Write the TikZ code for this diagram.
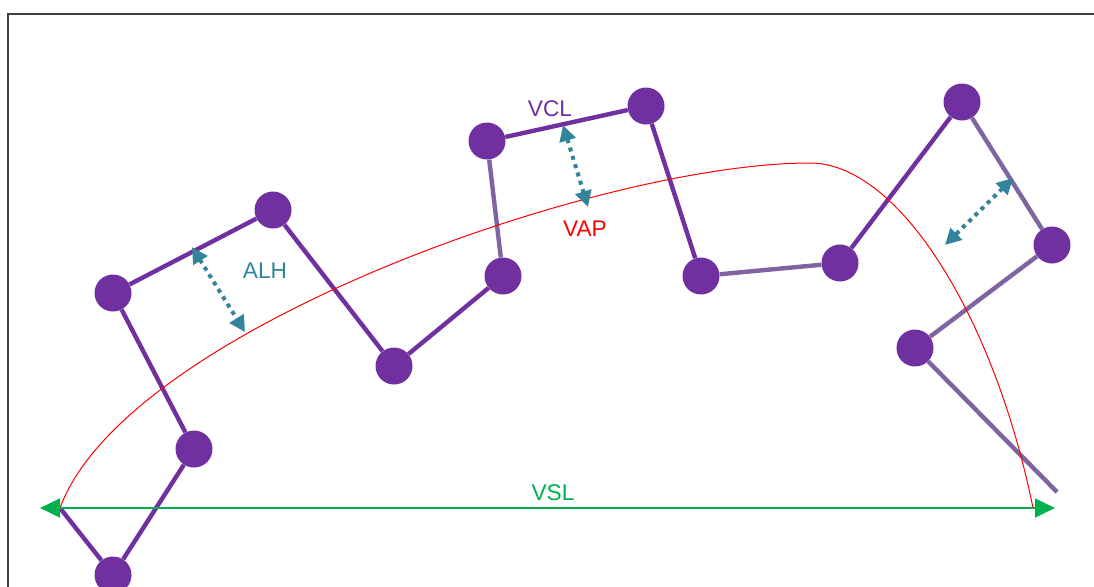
\documentclass[tikz,border=0pt]{standalone}
\usepackage{fontspec}
\setmainfont{Liberation Sans}
\usetikzlibrary{arrows.meta,backgrounds}
\definecolor{dpurple}{HTML}{7030A0}
\definecolor{lpurple}{HTML}{8064A2}
\definecolor{vgreen}{HTML}{00B050}
\definecolor{vteal}{HTML}{31849B}
\definecolor{vred}{HTML}{FF0000}
\begin{document}
\begin{tikzpicture}[x=0.75pt,y=-0.75pt,
  joint/.style={circle,fill=dpurple,minimum size=27.75pt,inner sep=0pt},
  dark/.style={draw=dpurple,line width=3.3pt},
  light/.style={draw=lpurple,line width=3.3pt},
  lbl/.style={font=\fontsize{17}{19}\selectfont,inner sep=0pt},
  gap/.style={draw=vteal,line width=3pt,dash pattern=on 3pt off 3.5pt,
    {Triangle[length=12pt,width=12pt,fill=vteal]}-{Triangle[length=12pt,width=12pt,fill=vteal]}}]
\useasboundingbox (0,0) rectangle (1094,586);
\clip (0,0) rectangle (1094,586);
% joints
\node[joint] (a) at (113,293) {};
\node[joint] (b) at (273,210) {};
\node[joint] (c) at (194,449) {};
\node[joint] (d) at (113,575) {};
\node[joint] (e) at (394,366) {};
\node[joint] (f) at (503,276) {};
\node[joint] (g) at (487,141) {};
\node[joint] (h) at (646,106) {};
\node[joint] (i) at (701,276) {};
\node[joint] (j) at (840,263) {};
\node[joint] (k) at (962,102) {};
\node[joint] (l) at (1052,245) {};
\node[joint] (m) at (915,348) {};
\coordinate (s) at (60,508);
\coordinate (t) at (1057,492);
\coordinate (vl) at (40,508);
\coordinate (vr) at (1055,508);
\coordinate (pe) at (1033,508);
\coordinate (pk) at (810,163);
\begin{pgfonlayer}{background}
\fill[white] (0,0) rectangle (1094,586);
\draw[line width=1.5pt,draw=black!75] (8,620) -- (8,14) -- (1120,14);
\draw[dark] (s) -- (d);
\draw[dark] (d) -- (c);
\draw[dark] (c) -- (a);
\draw[dark] (a) -- (b);
\draw[dark] (b) -- (e);
\draw[dark] (e) -- (f);
\draw[light] (f) -- (g);
\draw[dark] (g) -- (h);
\draw[dark] (h) -- (i);
\draw[light] (i) -- (j);
\draw[dark] (j) -- (k);
\draw[light] (k) -- (l);
\draw[light] (l) -- (m);
\draw[light] (m) -- (t);
\end{pgfonlayer}
% VAP curve
\draw[vred,line width=0.75pt] (s) .. controls (125,330) and (600,163) .. (pk)
  .. controls (900,163) and (995,320) .. (pe);
% VSL
\draw[vgreen,line width=2pt,{Triangle[length=15pt,width=14pt]}-{Triangle[length=15pt,width=14pt]}] (vl) -- (vr);
% gaps
\coordinate (g1a) at (192,247); \coordinate (g1b) at (245,332);
\coordinate (g2a) at (563,125); \coordinate (g2b) at (588,207);
\coordinate (g3a) at (1013,178); \coordinate (g3b) at (945,245);
\draw[gap] (g1a) -- (g1b);
\draw[gap] (g2a) -- (g2b);
\draw[gap] (g3a) -- (g3b);
% labels
\node[lbl,text=dpurple] (vcl) at (550,109) {VCL};
\node[lbl,text=vteal] (alh) at (265,271) {ALH};
\node[lbl,text=vred] (vap) at (585,229) {VAP};
\node[lbl,text=vgreen] (vsl) at (553,493) {VSL};
\end{tikzpicture}
\end{document}
